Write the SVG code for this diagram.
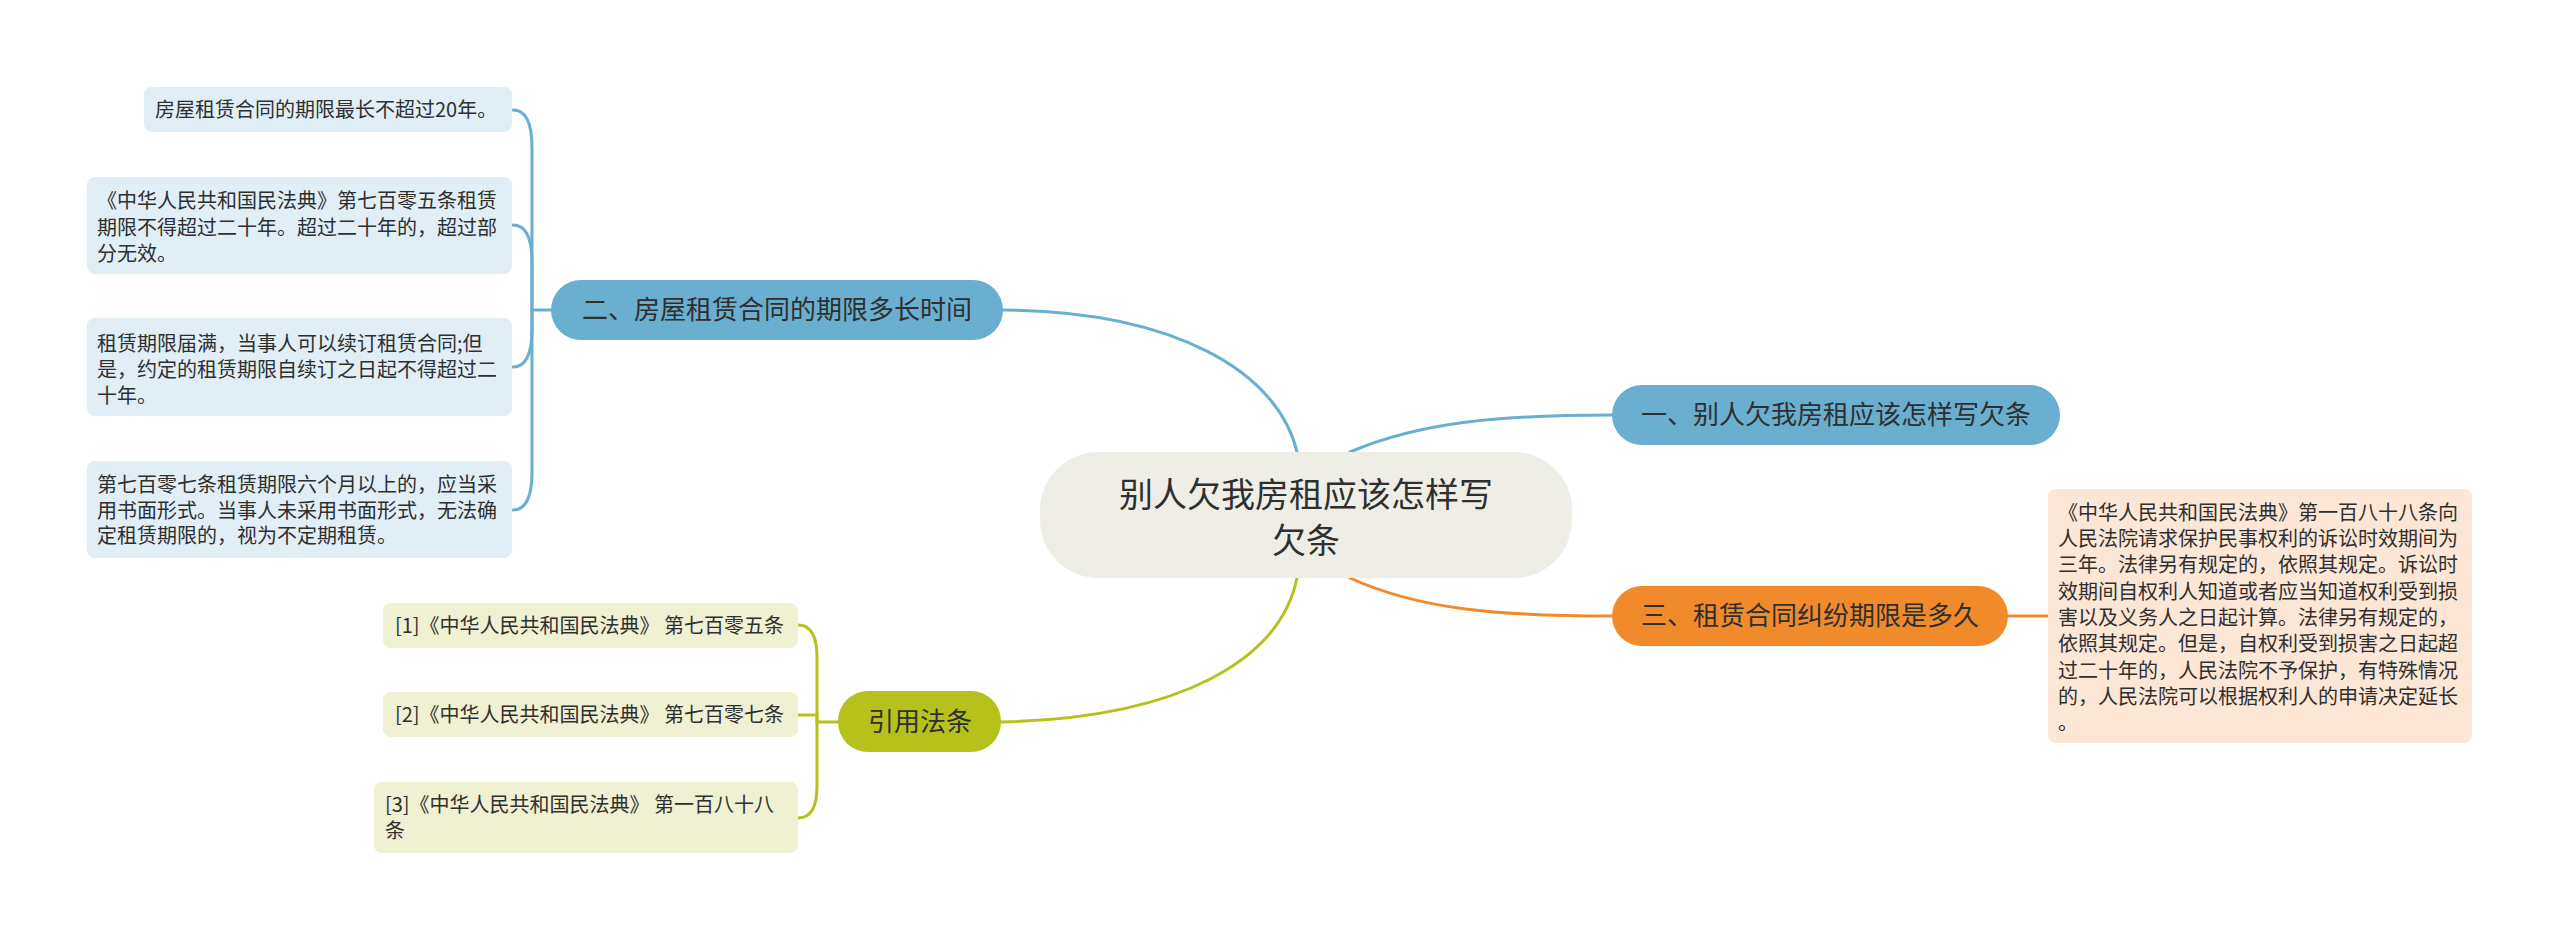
<svg xmlns="http://www.w3.org/2000/svg" width="2560" height="941" viewBox="0 0 2560 941">
<style>
text{font-family:"Noto Sans CJK SC","Noto Sans",sans-serif;fill:#2f2f2f}
.c{text-anchor:middle}
.leaf{font-size:20px}
.l1{font-size:26px}
.root{font-size:34px}
.conn path{fill:none;stroke-width:3;stroke-linecap:round}
.b{stroke:#6aaed0}
.g{stroke:#b6c11c}
.o{stroke:#f08a2b}
</style>
<rect width="2560" height="941" fill="#ffffff"/>
<g id="connectors" class="conn">
<path class="b" d="M1003,310 C1175,311 1278,372 1297,452"/>
<path class="b" d="M1350,452 C1420,422 1500,415 1612,415"/>
<path class="o" d="M1350,578 C1420,610 1500,616 1612,616"/>
<path class="g" d="M1297,578 C1280,660 1180,718 1001,722"/>
<path class="b" d="M551,310 L532,310 L532,148 Q532,110 513,110"/>
<path class="b" d="M532,310 L532,263 Q532,225 513,225"/>
<path class="b" d="M532,310 L532,329 Q532,367 513,367"/>
<path class="b" d="M532,310 L532,472 Q532,510 513,510"/>
<path class="g" d="M838,722 L817,722 L817,657 Q817,625 798,625"/>
<path class="g" d="M817,722 L817,715 L798,715"/>
<path class="g" d="M817,722 L817,786 Q817,818 798,818"/>
<path class="o" d="M2008,616 L2048,616"/>
</g>
<g id="root">
<rect x="1040" y="452" width="532" height="126" rx="58" fill="#efeee6"/>
<text class="root c" x="1306" y="507">别人欠我房租应该怎样写</text>
<text class="root c" x="1306" y="553">欠条</text>
</g>
<g id="n1">
<rect x="1612" y="385" width="448" height="60" rx="30" fill="#6aaed0"/>
<text class="l1 c" x="1836" y="424">一、别人欠我房租应该怎样写欠条</text>
</g>
<g id="n2">
<rect x="551" y="280" width="452" height="60" rx="30" fill="#6aaed0"/>
<text class="l1 c" x="777" y="319">二、房屋租赁合同的期限多长时间</text>
</g>
<g id="n3">
<rect x="1612" y="586" width="396" height="60" rx="30" fill="#f08a2b"/>
<text class="l1 c" x="1810" y="625">三、租赁合同纠纷期限是多久</text>
</g>
<g id="n4">
<rect x="838" y="691" width="163" height="61" rx="30" fill="#b6c11c"/>
<text class="l1 c" x="920" y="731">引用法条</text>
</g>
<g id="leaf2a">
<rect x="144" y="87" width="368" height="45" rx="8" fill="#e2eef6"/>
<text class="leaf" x="155" y="117">房屋租赁合同的期限最长不超过20年。</text>
</g>
<g id="leaf2b">
<rect x="87" y="177" width="425" height="97" rx="8" fill="#e2eef6"/>
<text class="leaf" x="97" y="208">《中华人民共和国民法典》第七百零五条租赁</text>
<text class="leaf" x="97" y="235">期限不得超过二十年。超过二十年的，超过部</text>
<text class="leaf" x="97" y="261">分无效。</text>
</g>
<g id="leaf2c">
<rect x="87" y="318" width="425" height="98" rx="8" fill="#e2eef6"/>
<text class="leaf" x="97" y="351">租赁期限届满，当事人可以续订租赁合同;但</text>
<text class="leaf" x="97" y="377">是，约定的租赁期限自续订之日起不得超过二</text>
<text class="leaf" x="97" y="403">十年。</text>
</g>
<g id="leaf2d">
<rect x="87" y="461" width="425" height="97" rx="8" fill="#e2eef6"/>
<text class="leaf" x="97" y="492">第七百零七条租赁期限六个月以上的，应当采</text>
<text class="leaf" x="97" y="518">用书面形式。当事人未采用书面形式，无法确</text>
<text class="leaf" x="97" y="543">定租赁期限的，视为不定期租赁。</text>
</g>
<g id="leaf3a">
<rect x="2048" y="489" width="424" height="254" rx="8" fill="#fce6d5"/>
<text class="leaf" x="2058" y="520">《中华人民共和国民法典》第一百八十八条向</text>
<text class="leaf" x="2058" y="546">人民法院请求保护民事权利的诉讼时效期间为</text>
<text class="leaf" x="2058" y="572">三年。法律另有规定的，依照其规定。诉讼时</text>
<text class="leaf" x="2058" y="599">效期间自权利人知道或者应当知道权利受到损</text>
<text class="leaf" x="2058" y="625">害以及义务人之日起计算。法律另有规定的，</text>
<text class="leaf" x="2058" y="651">依照其规定。但是，自权利受到损害之日起超</text>
<text class="leaf" x="2058" y="678">过二十年的，人民法院不予保护，有特殊情况</text>
<text class="leaf" x="2058" y="704">的，人民法院可以根据权利人的申请决定延长</text>
<text class="leaf" x="2058" y="730">。</text>
</g>
<g id="leaf4a">
<rect x="383" y="603" width="415" height="45" rx="8" fill="#eff1d2"/>
<text class="leaf" x="395" y="633">[1]《中华人民共和国民法典》 第七百零五条</text>
</g>
<g id="leaf4b">
<rect x="383" y="692" width="415" height="45" rx="8" fill="#eff1d2"/>
<text class="leaf" x="395" y="722">[2]《中华人民共和国民法典》 第七百零七条</text>
</g>
<g id="leaf4c">
<rect x="374" y="782" width="424" height="71" rx="8" fill="#eff1d2"/>
<text class="leaf" x="385" y="812">[3]《中华人民共和国民法典》 第一百八十八</text>
<text class="leaf" x="385" y="838">条</text>
</g>
</svg>
